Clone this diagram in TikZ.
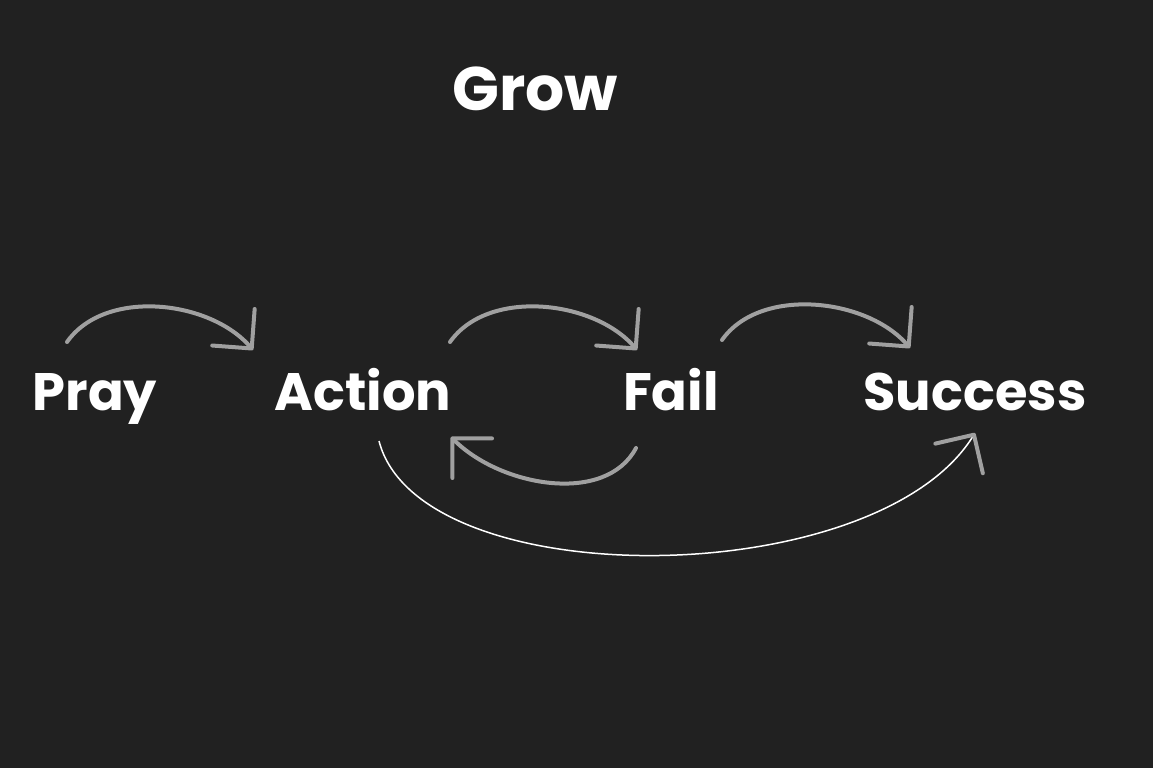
\documentclass[tikz,border=0pt]{standalone}
\usepackage{fontspec}
\setmainfont{Poppins}
\usetikzlibrary{arrows.meta}
\definecolor{board}{HTML}{212121}
\definecolor{chalk}{HTML}{A0A0A0}

\begin{document}
\begin{tikzpicture}[x=0.02cm, y=-0.02cm, word/.style={text=white, inner sep=0pt, anchor=base, font=\fontsize{30}{36}\selectfont\bfseries}, >={Straight Barb[length=5.6mm, width=11.2mm, line width=0.8mm, round, color=chalk]}, flow/.style={->, draw=chalk, line width=0.8mm, line cap=round}, longflow/.style={->, draw=white, line width=0.3mm}]
\fill[board] (0,0) rectangle (1153,768);
\useasboundingbox (0,0) rectangle (1153,768);
\node[word, font=\fontsize{35}{40}\selectfont\bfseries] (grow) at (535,110) {Grow};
\node[word] (pray) at (95,410) {Pray};
\node[word] (action) at (363,410) {Action};
\node[word] (fail) at (671,410) {Fail};
\node[word] (success) at (975,410) {Success};
% forward steps
\draw[flow] ([shift={(-28,-68)}]pray.base) .. controls +(38,-54) and +(-43,-50) .. ([shift={(-110,-60)}]action.base);
\draw[flow] ([shift={(87,-68)}]action.base) .. controls +(38,-54) and +(-43,-50) .. ([shift={(-34,-60)}]fail.base);
\draw[flow] ([shift={(51,-70)}]fail.base) .. controls +(38,-54) and +(-43,-50) .. ([shift={(-65,-62)}]success.base);
% back to action after failing
\draw[flow] ([shift={(-35,38)}]fail.base) .. controls +(-30,57) and +(50,50) .. ([shift={(88,27)}]action.base);
% straight from action to success
\draw[longflow] ([shift={(16,31)}]action.base) .. controls +(40,155) and +(-100,160) .. ([shift={(0,23)}]success.base);
\end{tikzpicture}
\end{document}
